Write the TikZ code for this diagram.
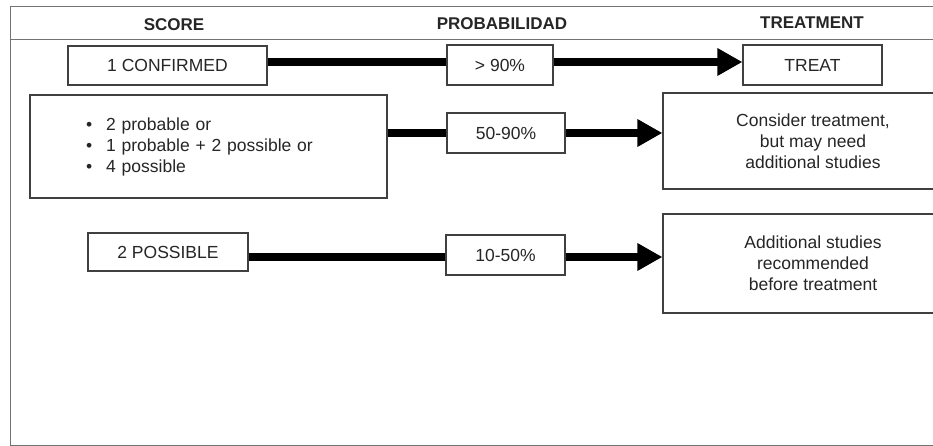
\documentclass[tikz,border=0pt]{standalone}
\usepackage{fontspec}
\setmainfont{Liberation Sans}
\usetikzlibrary{arrows.meta}

\begin{document}
\begin{tikzpicture}[x=1pt,y=-1pt,
    box/.style={draw=black!75,line width=1.2pt,fill=white,inner sep=0pt,align=center,
        font=\fontsize{17.5}{21}\selectfont,text=black!85},
    head/.style={font=\bfseries\fontsize{17}{21}\selectfont,text=black!85},
    link/.style={line width=7.5pt,black},
    arr/.style={link,-{Triangle[length=25pt,width=26pt]}}]
        % page
        \clip (0,0) rectangle (933,446);
        \fill[white] (0,0) rectangle (933,446);

        % frame
        \draw[black!55,line width=1pt] (10,7) rectangle (960,445);
        \draw[black!55,line width=1pt] (10,40) -- (960,40);

        % column heads
        \node[head] (score) at (174,25) {SCORE};
        \node[head] (prob) at (502,24) {PROBABILIDAD};
        \node[head] (treatm) at (812,23) {TREATMENT};

        % score boxes
        \node[box,minimum width=199pt,minimum height=39pt] (conf) at (167.5,65.5) {1 CONFIRMED};
        \node[box,text width=245pt,inner xsep=56pt,minimum height=103pt,align=left] (combo) at (208.5,146.5)
            {\textbullet\hspace{14pt}2 probable or\\ \textbullet\hspace{14pt}1 probable + 2 possible or\\
             \textbullet\hspace{14pt}4 possible\\[4pt]};
        \node[box,minimum width=160pt,minimum height=38pt] (poss) at (168,252) {2 POSSIBLE};

        % probability boxes
        \node[box,minimum width=106pt,minimum height=40pt] (p90) at (500,65) {> 90\%};
        \node[box,minimum width=118pt,minimum height=40pt] (p5090) at (506,133) {50-90\%};
        \node[box,minimum width=119pt,minimum height=40pt] (p1050) at (505.5,255) {10-50\%};

        % treatment boxes
        \node[box,minimum width=139pt,minimum height=40pt] (treat) at (812.5,65) {TREAT};
        \node[box,minimum width=300pt,minimum height=96pt] (consider) at (813,141)
            {Consider treatment,\\ but may need\\ additional studies};
        \node[box,minimum width=300pt,minimum height=99pt] (addit) at (813,263.5)
            {Additional studies\\ recommended\\ before treatment};

        % connectors
        \draw[link] (conf.east |- 0,62) -- (p90.west |- 0,62);
        \draw[arr] (p90.east |- 0,62) -- (treat.west |- 0,62);
        \draw[link] (combo.east |- p5090.west) -- (p5090.west);
        \draw[arr] (p5090.east) -- (p5090.east -| consider.west);
        \draw[link] (poss.east |- 0,257) -- (p1050.west |- 0,257);
        \draw[arr] (p1050.east |- 0,257) -- (addit.west |- 0,257);
\end{tikzpicture}
\end{document}
